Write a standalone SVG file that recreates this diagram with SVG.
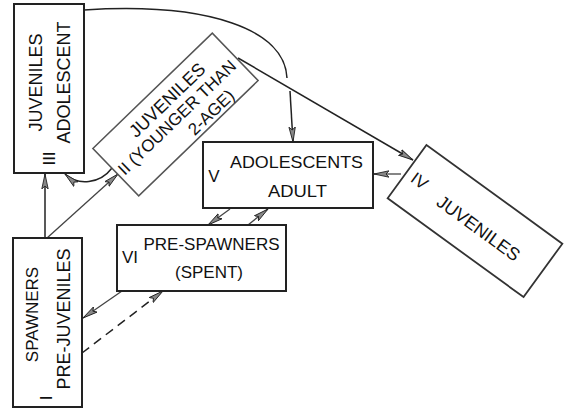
<svg xmlns="http://www.w3.org/2000/svg" width="564" height="410" viewBox="0 0 564 410">
<style>
.box{fill:#fff;stroke:#222;stroke-width:2}
.boxg{fill:#fff;stroke:#555;stroke-width:1.5}
.t{font-family:"Liberation Sans",Arial,sans-serif;fill:#111;text-anchor:middle}
.c{fill:none;stroke:#222;stroke-width:1.5}
.cg{fill:none;stroke:#444;stroke-width:1.3}
.d{stroke-dasharray:9 6}
</style>
<defs>
<marker id="arr" viewBox="0 0 16 8" refX="15" refY="4" markerWidth="16" markerHeight="8" markerUnits="userSpaceOnUse" orient="auto">
<path d="M0,0.8 L15,4 L0,7.2 L3,4 Z" fill="#888" stroke="#222" stroke-width="0.9"/>
</marker>
</defs>
<rect width="564" height="410" fill="#fff"/>
<g id="connectors">
<path class="c" d="M84,10 C210,2 285,30 287,78"/>
<path class="c" d="M290,91 L293,142" marker-end="url(#arr)"/>
<path class="c" d="M238,58 L413,160" marker-end="url(#arr)"/>
<path class="cg" d="M401,174 L374,174" marker-end="url(#arr)"/>
<path class="c" d="M112,168 C100,184 78,186 65,174" marker-end="url(#arr)"/>
<path class="c" d="M45,238 L45,174" marker-end="url(#arr)"/>
<path class="cg" d="M47,238 L118,174" marker-end="url(#arr)"/>
<path class="cg" d="M230,209 L208,225" marker-end="url(#arr)"/>
<path class="cg" d="M248,225 L268,209" marker-end="url(#arr)"/>
<path class="cg" d="M122,291 L83,318" marker-end="url(#arr)"/>
<path class="c d" d="M82,353 L163,291" marker-end="url(#arr)"/>
</g>
<g id="node-iii">
<rect class="box" x="14" y="4" width="70" height="169"/>
<text class="t" font-size="18" transform="translate(42,82.5) rotate(-90)">JUVENILES</text>
<text class="t" font-size="18" transform="translate(70,82.5) rotate(-90)">ADOLESCENT</text>
<text class="t" font-size="17" transform="translate(55,158.5) rotate(-90)">III</text>
</g>
<g id="node-i">
<rect class="box" x="13" y="238" width="69" height="169"/>
<text class="t" font-size="17" transform="translate(38,314.5) rotate(-90)">SPAWNERS</text>
<text class="t" font-size="18" transform="translate(70,319) rotate(-90)">PRE-JUVENILES</text>
<text class="t" font-size="17" transform="translate(52,398) rotate(-90)">I</text>
</g>
<g id="node-ii" transform="translate(175.5,114.5) rotate(-44)">
<rect class="boxg" x="-83" y="-33" width="166" height="66"/>
<text class="t" font-size="18" x="4" y="-10">JUVENILES</text>
<text class="t" font-size="17" x="-1" y="9">II (YOUNGER THAN</text>
<text class="t" font-size="17" x="27" y="29">2-AGE)</text>
</g>
<g id="node-v">
<rect class="box" x="203" y="142" width="170" height="66"/>
<text class="t" font-size="17" x="296.5" y="168" textLength="133" lengthAdjust="spacingAndGlyphs">ADOLESCENTS</text>
<text class="t" font-size="17" x="297.5" y="197" textLength="59" lengthAdjust="spacingAndGlyphs">ADULT</text>
<text class="t" font-size="17" x="214" y="182">V</text>
</g>
<g id="node-iv" transform="translate(475,221) rotate(36)">
<rect class="box" style="stroke:#333;stroke-width:1.8" x="-84" y="-33" width="168" height="66"/>
<text class="t" font-size="17" x="-68.5" y="6">IV</text>
<text class="t" font-size="18" x="7" y="10">JUVENILES</text>
</g>
<g id="node-vi">
<rect class="box" x="117" y="225" width="169" height="66"/>
<text class="t" font-size="17" x="211.5" y="250">PRE-SPAWNERS</text>
<text class="t" font-size="17" x="209" y="278">(SPENT)</text>
<text class="t" font-size="17" x="130" y="263">VI</text>
</g>
</svg>
